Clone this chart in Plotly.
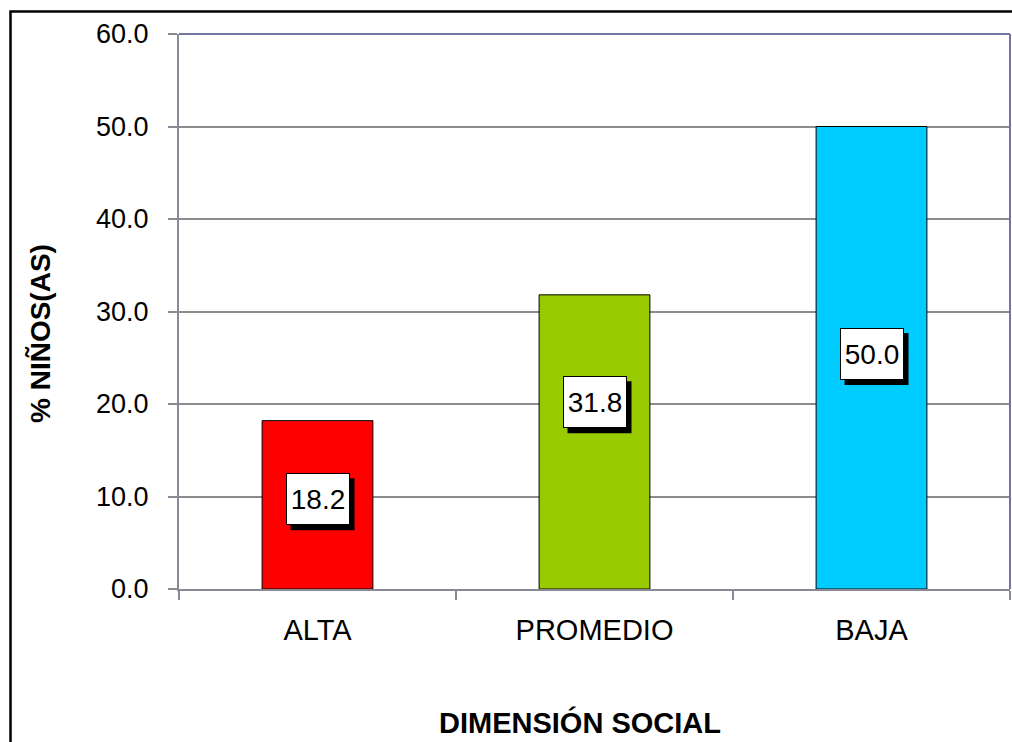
import plotly.graph_objects as go

categories = ["ALTA", "PROMEDIO", "BAJA"]
values = [18.2, 31.8, 50.0]
bar_colors = ["#FF0000", "#99CC00", "#00CCFF"]
label_pos = [9.7, 20.2, 25.4]
y_ticks = [0, 10, 20, 30, 40, 50, 60]

W, H = 1012, 742
L, R, T, B = 179, 2, 34, 153
pw, ph = W - L - R, H - T - B

def px(x):
    return (x - L) / pw

def py(y):
    return (H - B - y) / ph

FONT = "Liberation Sans, Arial, sans-serif"

fig = go.Figure()
fig.add_trace(go.Bar(
    x=categories, y=values, width=0.4,
    marker=dict(color=bar_colors, line=dict(color="black", width=1)),
    showlegend=False, hoverinfo="skip",
))

annotations = []
shapes = []
for i, (c, v, lp) in enumerate(zip(categories, values, label_pos)):
    txt = f"{v:.1f}"
    # drop shadow of the label box
    shapes.append(dict(
        type="rect", xref="x", yref="y", xsizemode="pixel", ysizemode="pixel",
        xanchor=i, yanchor=lp, x0=-27, x1=37, y0=-31, y1=21,
        fillcolor="black", line=dict(width=0), layer="above",
    ))
    annotations.append(dict(
        x=c, y=lp, xref="x", yref="y", text=txt, showarrow=False,
        font=dict(family=FONT, size=28, color="black"),
        bgcolor="white", bordercolor="black", borderwidth=1, borderpad=1,
        width=60, height=48,
    ))

annotations.append(dict(
    x=px(580), y=py(722), xref="paper", yref="paper", text="<b>DIMENSIÓN SOCIAL</b>",
    showarrow=False, xanchor="center", yanchor="middle",
    font=dict(family=FONT, size=29, color="black"),
))
annotations.append(dict(
    x=px(40), y=py(334), xref="paper", yref="paper", text="<b>% NIÑOS(AS)</b>",
    showarrow=False, xanchor="center", yanchor="middle", textangle=-90,
    font=dict(family=FONT, size=28, color="black"),
))

shapes += [
    # outer border
    dict(type="rect", xref="paper", yref="paper",
         x0=px(10.5), x1=px(1030), y0=py(760), y1=py(11.5),
         line=dict(color="black", width=2.5), layer="below"),
    # top and right frame of plot area
    dict(type="line", xref="paper", yref="paper", x0=0, x1=1, y0=1, y1=1,
         line=dict(color="#7474A4", width=2)),
    dict(type="line", xref="paper", yref="paper", x0=1, x1=1, y0=0, y1=1,
         line=dict(color="#7474A4", width=2)),
]

fig.update_layout(
    width=W, height=H,
    margin=dict(l=L, r=R, t=T, b=B, pad=0),
    paper_bgcolor="white", plot_bgcolor="white",
    font=dict(family=FONT, color="black"),
    annotations=annotations,
    shapes=shapes,
    xaxis=dict(
        type="category", range=[-0.5, 2.5], tickson="boundaries",
        ticks="outside", ticklen=9, tickcolor="#8A8A96", tickwidth=2,
        showline=True, linecolor="#8A8A96", linewidth=2,
        showgrid=False, tickfont=dict(family=FONT, size=29, color="black"),
        ticklabelstandoff=14,
    ),
    yaxis=dict(
        range=[0, 60], tickvals=y_ticks, tickformat=".1f",
        ticks="outside", ticklen=9, tickcolor="#8A8A96", tickwidth=2,
        showline=True, linecolor="#8A8A96", linewidth=2,
        showgrid=True, gridcolor="#8C8C8C", gridwidth=2,
        zeroline=False,
        tickfont=dict(family=FONT, size=27, color="black"),
        ticklabelstandoff=14,
    ),
)

fig.write_html(
    "out.html",
    config={"displayModeBar": False},
    post_script="document.body.style.margin='0';document.body.style.overflow='hidden';",
)
